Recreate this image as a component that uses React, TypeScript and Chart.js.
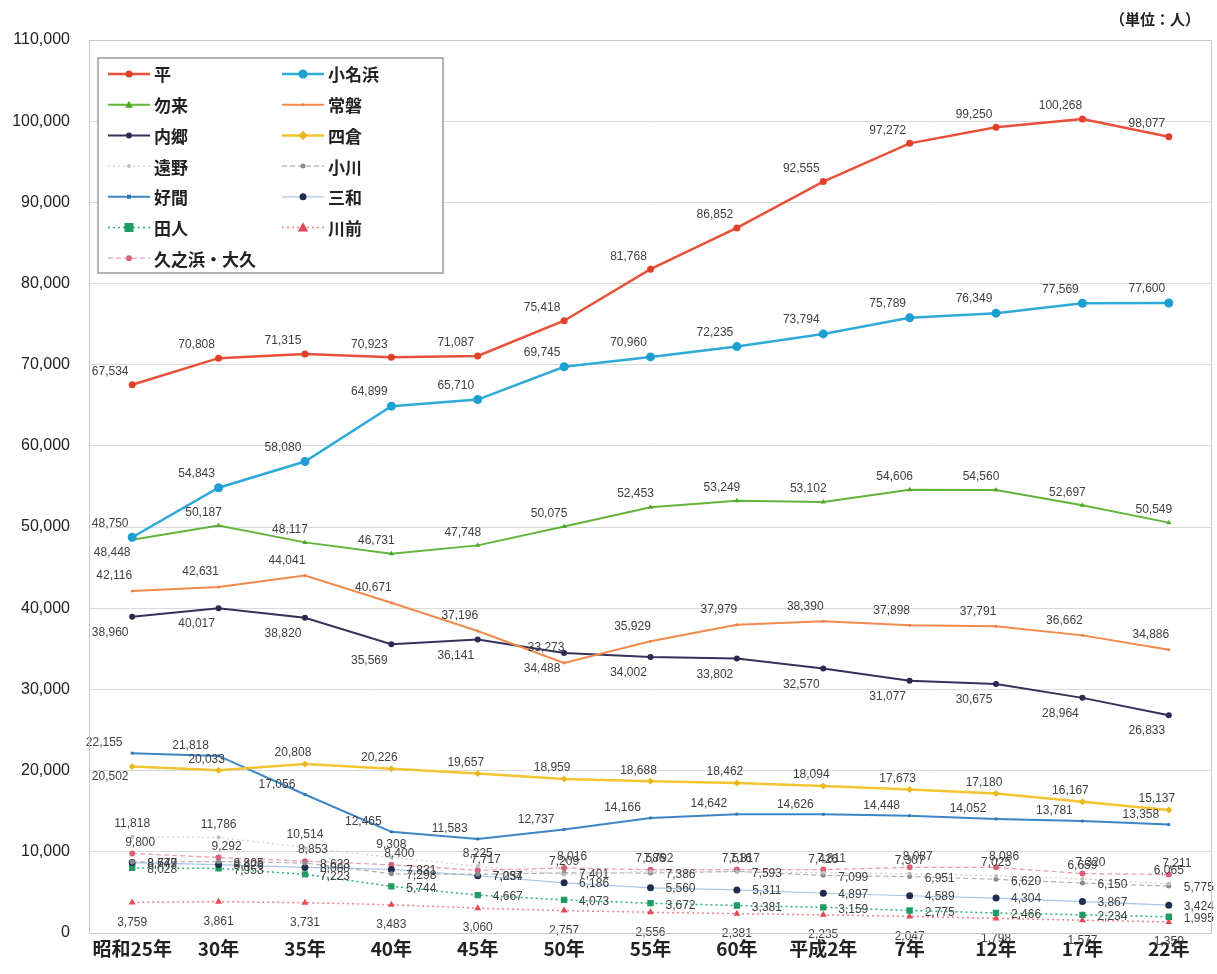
import React, { useEffect, useRef } from 'react';
import { Chart, registerables } from 'chart.js';

Chart.register(...registerables);

const categories = ['昭和25年', '30年', '35年', '40年', '45年', '50年', '55年', '60年', '平成2年', '7年', '12年', '17年', '22年'];

const taira = [67534, 70808, 71315, 70923, 71087, 75418, 81768, 86852, 92555, 97272, 99250, 100268, 98077];
const onahama = [48750, 54843, 58080, 64899, 65710, 69745, 70960, 72235, 73794, 75789, 76349, 77569, 77600];
const nakoso = [48448, 50187, 48117, 46731, 47748, 50075, 52453, 53249, 53102, 54606, 54560, 52697, 50549];
const joban = [42116, 42631, 44041, 40671, 37196, 33273, 35929, 37979, 38390, 37898, 37791, 36662, 34886];
const uchigo = [38960, 40017, 38820, 35569, 36141, 34488, 34002, 33802, 32570, 31077, 30675, 28964, 26833];
const yotsukura = [20502, 20033, 20808, 20226, 19657, 18959, 18688, 18462, 18094, 17673, 17180, 16167, 15137];
const tono = [11818, 11786, 10514, 9308, 8225, 7209, 7586, 7516, 7426, 7307, 7025, 6659, 6065];
const ogawa = [8747, 8805, 8623, 7298, 7237, 7401, 7386, 7593, 7099, 6951, 6620, 6150, 5775];
const yoshima = [22155, 21818, 17056, 12465, 11583, 12737, 14166, 14642, 14626, 14448, 14052, 13781, 13358];
const miwa = [8679, 8426, 8080, 7831, 7054, 6186, 5560, 5311, 4897, 4589, 4304, 3867, 3424];
const tabito = [8028, 7953, 7223, 5744, 4667, 4073, 3672, 3381, 3159, 2775, 2466, 2234, 1995];
const kawamae = [3759, 3861, 3731, 3483, 3060, 2757, 2556, 2381, 2235, 2047, 1798, 1577, 1359];
const hisanohama = [9800, 9292, 8853, 8400, 7717, 8016, 7792, 7817, 7811, 8087, 8086, 7320, 7211];

const yMin = 0;
const yMax = 110000;
const yStep = 10000;
const unitLabel = '（単位：人）';

const fmt = (v: number) => v.toLocaleString('en-US');

function drawMarker(ctx: CanvasRenderingContext2D, style: string, x: number, y: number, r: number, fill: string) {
  if (!r) return;
  ctx.beginPath();
  if (style === 'rect') {
    ctx.rect(x - r, y - r, 2 * r, 2 * r);
  } else if (style === 'rectRot') {
    const k = r * 1.35;
    ctx.moveTo(x, y - k);
    ctx.lineTo(x + k, y);
    ctx.lineTo(x, y + k);
    ctx.lineTo(x - k, y);
    ctx.closePath();
  } else if (style === 'triangle') {
    const k = r * 1.3;
    ctx.moveTo(x, y - k);
    ctx.lineTo(x + k, y + k * 0.75);
    ctx.lineTo(x - k, y + k * 0.75);
    ctx.closePath();
  } else {
    ctx.arc(x, y, r, 0, Math.PI * 2);
  }
  ctx.fillStyle = fill;
  ctx.fill();
}

const labelPlugin = {
  id: 'valueLabels',
  afterDatasetsDraw(chart: any) {
    const ctx: CanvasRenderingContext2D = chart.ctx;
    ctx.save();
    ctx.font = '12px "Liberation Sans", Arial, sans-serif';
    ctx.fillStyle = '#404040';
    ctx.textAlign = 'center';
    ctx.textBaseline = 'middle';
    chart.data.datasets.forEach((ds: any, i: number) => {
      const meta = chart.getDatasetMeta(i);
      meta.data.forEach((pt: any, j: number) => {
        let dx = ds.lblDx;
        let dy = ds.lblDy;
        if (j === 0 && ds.lblFirst) {
          dx = ds.lblFirst[0];
          dy = ds.lblFirst[1];
        }
        ctx.fillText(fmt(ds.data[j]), pt.x + dx, pt.y + dy);
      });
    });
    ctx.restore();
  },
};

const framePlugin = {
  id: 'frameAndLegend',
  afterDraw(chart: any) {
    const ctx: CanvasRenderingContext2D = chart.ctx;
    const a = chart.chartArea;
    ctx.save();
    ctx.strokeStyle = '#c8c8c8';
    ctx.lineWidth = 1;
    ctx.strokeRect(a.left + 0.5, a.top + 0.5, a.right - a.left - 1, a.bottom - a.top);

    ctx.font = 'bold 15px "Noto Sans CJK JP", sans-serif';
    ctx.fillStyle = '#222';
    ctx.textAlign = 'right';
    ctx.textBaseline = 'middle';
    ctx.fillText(unitLabel, 1200, 19);

    const bx = 98, by = 58, bw = 345, bh = 215;
    ctx.fillStyle = '#ffffff';
    ctx.fillRect(bx, by, bw, bh);
    ctx.strokeStyle = '#9a9a9a';
    ctx.lineWidth = 1.5;
    ctx.strokeRect(bx, by, bw, bh);

    const colX = [108, 282];
    const rowY0 = 74;
    const rowH = 30.7;
    ctx.font = 'bold 17px "Noto Sans CJK JP", sans-serif';
    ctx.textAlign = 'left';
    chart.data.datasets.forEach((ds: any, i: number) => {
      const col = i % 2;
      const row = Math.floor(i / 2);
      const x0 = colX[col];
      const y = rowY0 + row * rowH;
      const len = 42;
      ctx.save();
      ctx.strokeStyle = ds.borderColor;
      ctx.lineWidth = Math.max(1, ds.borderWidth);
      ctx.setLineDash(ds.borderDash || []);
      ctx.beginPath();
      ctx.moveTo(x0, y);
      ctx.lineTo(x0 + len, y);
      ctx.stroke();
      ctx.restore();
      drawMarker(ctx, ds.pointStyle, x0 + len / 2, y, ds.pointRadius, ds.pointBackgroundColor);
      ctx.fillStyle = '#222';
      ctx.textBaseline = 'middle';
      ctx.fillText(ds.label, x0 + len + 4, y + 1);
    });
    ctx.restore();
  },
};

function series(label: string, data: number[], color: string, markerColor: string, width: number, dash: number[], style: string, radius: number, dx: number, dy: number, first?: number[]) {
  return {
    label,
    data,
    borderColor: color,
    backgroundColor: markerColor,
    pointBackgroundColor: markerColor,
    pointBorderColor: markerColor,
    pointBorderWidth: 0,
    borderWidth: width,
    borderDash: dash,
    pointStyle: style,
    pointRadius: radius,
    tension: 0,
    lblDx: dx,
    lblDy: dy,
    lblFirst: first,
  };
}

export default function App() {
  const ref = useRef<HTMLCanvasElement | null>(null);

  useEffect(() => {
    document.body.style.margin = '0';
    if (!ref.current) return;
    const datasets = [
      series('平', taira, '#E8503A', '#E0402A', 2.5, [], 'circle', 3.5, -22, -13),
      series('小名浜', onahama, '#2EAAD8', '#1E9FD2', 2.5, [], 'circle', 4.5, -22, -14),
      series('勿来', nakoso, '#62B53A', '#4FA62A', 2, [], 'triangle', 3, -15, -13, [-20, 13]),
      series('常磐', joban, '#F28A4C', '#F08040', 2, [], 'circle', 1.5, -18, -15),
      series('内郷', uchigo, '#35315A', '#2C2850', 2, [], 'circle', 3, -22, 16),
      series('四倉', yotsukura, '#F4C430', '#E8B820', 2.5, [], 'rectRot', 3.5, -12, -11, [-22, 10]),
      series('遠野', tono, '#D8C8CC', '#BDBDBD', 1.2, [2, 3], 'circle', 2, 0, -13),
      series('小川', ogawa, '#B0B0B0', '#8C8C8C', 1.2, [5, 3], 'circle', 2.5, 30, 2),
      series('好間', yoshima, '#3C86C6', '#2F74B5', 2, [], 'rect', 2, -28, -10),
      series('三和', miwa, '#A9C4E8', '#1F2D4F', 1.2, [], 'circle', 3.5, 30, 1),
      series('田人', tabito, '#2AAE73', '#1E9C64', 1.5, [2, 3], 'rect', 4.5, 30, 2),
      series('川前', kawamae, '#F0808A', '#E24A55', 1.5, [2, 3], 'triangle', 4, 0, 20),
      series('久之浜・大久', hisanohama, '#E8A0B0', '#D86078', 1.3, [5, 3], 'circle', 3, 8, -11),
    ];

    const chart = new Chart(ref.current, {
      type: 'line',
      data: { labels: categories, datasets: datasets as any },
      options: {
        animation: false,
        responsive: true,
        maintainAspectRatio: false,
        layout: { padding: { left: 0, right: 5, top: 40, bottom: 0 } },
        plugins: {
          legend: { display: false },
          tooltip: { enabled: false },
        },
        scales: {
          x: {
            type: 'category',
            offset: true,
            grid: { display: false, drawTicks: false },
            border: { display: false },
            ticks: {
              color: '#222',
              font: { family: '"Noto Sans CJK JP", sans-serif', size: 19, weight: 'bold' },
              padding: 4,
              maxRotation: 0,
              autoSkip: false,
            },
            afterFit: (s: any) => { s.height = 41; },
          },
          y: {
            min: yMin,
            max: yMax,
            grid: { color: '#d9d9d9', lineWidth: 1, drawTicks: false },
            border: { display: false },
            ticks: {
              stepSize: yStep,
              color: '#222',
              padding: 19,
              font: { family: '"Liberation Sans", Arial, sans-serif', size: 16 },
              callback: (v: any) => fmt(Number(v)),
            },
            afterFit: (s: any) => { s.width = 89; },
          },
        },
      },
      plugins: [labelPlugin, framePlugin],
    });
    return () => chart.destroy();
  }, []);

  return (
    <div style={{ position: 'relative', width: 1217, height: 974 }}>
      <canvas ref={ref} />
    </div>
  );
}
